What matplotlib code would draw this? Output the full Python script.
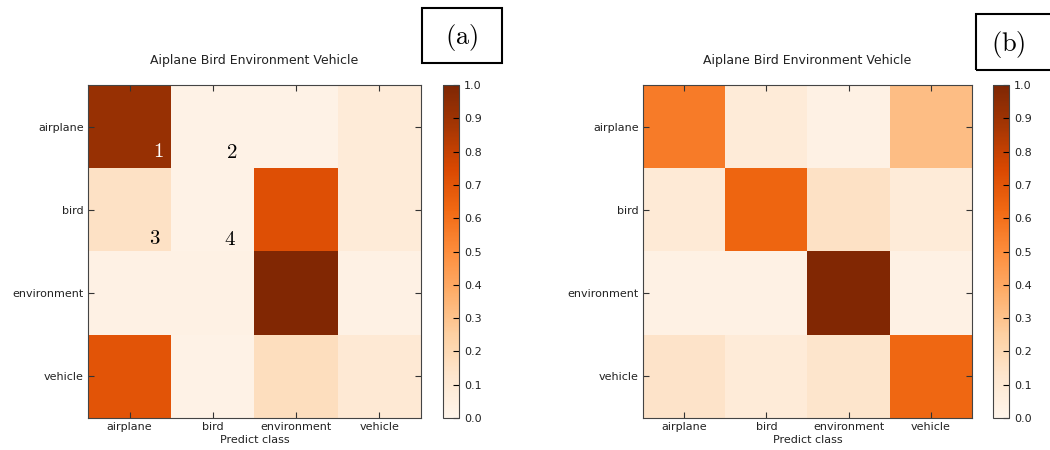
import numpy as np
import matplotlib.pyplot as plt
from matplotlib.patches import Rectangle

plt.rcParams['font.family'] = 'DejaVu Sans'
plt.rcParams['mathtext.fontset'] = 'cm'

classes = ['airplane', 'bird', 'environment', 'vehicle']
title = 'Aiplane Bird Environment Vehicle'

# rows = true class, cols = predicted class
conf_a = [[0.92, 0.02, 0.02, 0.08],
          [0.15, 0.02, 0.72, 0.08],
          [0.03, 0.03, 0.99, 0.03],
          [0.70, 0.02, 0.17, 0.10]]
conf_b = [[0.56, 0.08, 0.03, 0.32],
          [0.09, 0.64, 0.15, 0.08],
          [0.03, 0.03, 0.99, 0.03],
          [0.14, 0.08, 0.13, 0.63]]

# region markers drawn on panel (a)
marks = ['1', '2', '3', '4']
marks_x = [0.34, 1.22, 0.30, 1.21]
marks_y = [0.29, 0.30, 1.34, 1.35]
marks_col = ['white', 'black', 'black', 'black']

W, H = 1050, 450
fig = plt.figure(figsize=(W / 100, H / 100), dpi=100)


def fx(px):
    return px / W


def fy(py):
    return 1 - py / H


def panel(data, ax_left, ax_w, cb_left, tag, tag_box, tag_x):
    ax = fig.add_axes([fx(ax_left), fy(418), fx(ax_w), 333 / H])
    im = ax.imshow(np.array(data), cmap='Oranges', vmin=0, vmax=1,
                   interpolation='nearest', aspect='auto')
    ax.set_xticks(range(4))
    ax.set_yticks(range(4))
    ax.set_xticklabels(classes, fontsize=8)
    ax.set_yticklabels(classes, fontsize=8)
    ax.tick_params(direction='in', top=True, right=True, length=4,
                   color='#333333', pad=3, labelcolor='#222222')
    ax.set_xlabel('Predict class', fontsize=8, labelpad=2, color='#222222')
    ax.set_title(title, fontsize=9, pad=15, color='#222222')
    for s in ax.spines.values():
        s.set_color('#444444')

    cax = fig.add_axes([fx(cb_left), fy(418), fx(16), 333 / H])
    cb = fig.colorbar(im, cax=cax, ticks=np.linspace(0, 1, 11))
    cb.ax.tick_params(direction='in', length=4, labelsize=8, left=False,
                      right=True, labelcolor='#222222')
    cb.outline.set_edgecolor('#444444')

    x0, y0, x1, y1 = tag_box
    fig.patches.append(Rectangle((fx(x0), fy(y1)), fx(x1 - x0), (y1 - y0) / H,
                                 transform=fig.transFigure, fill=False,
                                 edgecolor='black', linewidth=1.5))
    fig.text(fx(tag_x), fy((y0 + y1) / 2 + 2),
             r'$\mathrm{(' + tag + ')}$', fontsize=19, ha='center', va='center')
    return ax


ax_a = panel(conf_a, 88, 333, 443, 'a', (422, 8, 502, 63), 462)
panel(conf_b, 643, 329, 993, 'b', (976, 14, 1060, 70), 1008)

for t, x, y, c in zip(marks, marks_x, marks_y, marks_col):
    ax_a.text(x, y, '$' + t + '$', color=c, fontsize=15, ha='center', va='center')

fig.savefig('out.png', dpi=100, facecolor='white')
